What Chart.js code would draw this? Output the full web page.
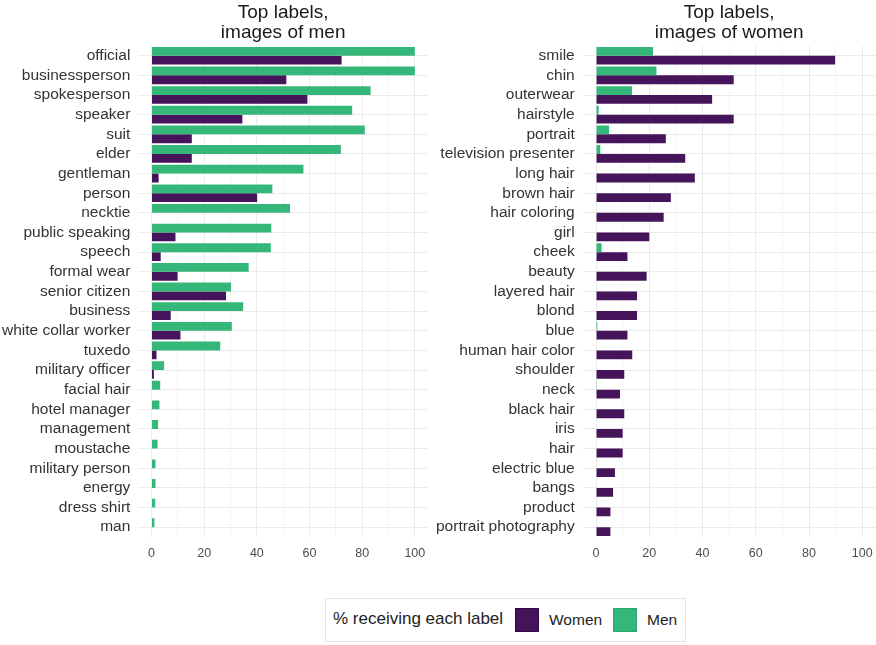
<!DOCTYPE html>
<html>
<head>
<meta charset="utf-8">
<script src="https://cdn.jsdelivr.net/npm/chart.js@4.4.1/dist/chart.umd.min.js"></script>
<style>
    body { margin: 0; background: #fff; font-family: "Liberation Sans", Arial, sans-serif; }
    #wrap { position: relative; width: 876px; height: 645px; overflow: hidden; }
    .panel { position: absolute; top: 0; height: 572px; }
    #legend {
        position: absolute; left: 325px; top: 598px; width: 361px; height: 44px;
        border: 1px solid #e2e2e2; box-sizing: border-box; color: #222;
    }
    #legend span { position: absolute; white-space: nowrap; }
    #legend .txt { top: 11px; font-size: 15.5px; line-height: 20px; }
    #legend .key { top: 9px; width: 24px; height: 24px; box-sizing: border-box; }
</style>
</head>
<body>
<div id="wrap">
    <div class="panel" style="left:-6px;width:444px"><canvas id="chartMen"></canvas></div>
    <div class="panel" style="left:428px;width:454px"><canvas id="chartWomen"></canvas></div>
    <div id="legend">
        <span class="txt" style="left:7px;font-size:17px;top:10px">% receiving each label</span>
        <span class="key" style="left:189px;background:#45145a;border:1px solid #300a40"></span>
        <span class="txt" style="left:223px">Women</span>
        <span class="key" style="left:287px;background:#35b779;border:1px solid #2aa86a"></span>
        <span class="txt" style="left:321px">Men</span>
    </div>
</div>
<script>
// Panel 1: top labels for images of men
const menLabels = ['official', 'businessperson', 'spokesperson', 'speaker', 'suit', 'elder',
    'gentleman', 'person', 'necktie', 'public speaking', 'speech', 'formal wear',
    'senior citizen', 'business', 'white collar worker', 'tuxedo', 'military officer',
    'facial hair', 'hotel manager', 'management', 'moustache', 'military person',
    'energy', 'dress shirt', 'man'];
const menPanelMen = [100, 100, 83.2, 76.2, 81, 71.9, 57.7, 45.9, 52.6, 45.5, 45.3, 36.9,
    30.2, 34.8, 30.5, 26.1, 4.8, 3.3, 3.0, 2.5, 2.3, 1.5, 1.5, 1.4, 1.1];
const menPanelWomen = [72.2, 51.2, 59.2, 34.5, 15.3, 15.3, 2.7, 40.1, 0, 9.1, 3.5, 9.9,
    28.3, 7.3, 11, 1.9, 0.9, 0, 0, 0, 0, 0, 0, 0, 0];

// Panel 2: top labels for images of women
const womenLabels = ['smile', 'chin', 'outerwear', 'hairstyle', 'portrait', 'television presenter',
    'long hair', 'brown hair', 'hair coloring', 'girl', 'cheek', 'beauty', 'layered hair',
    'blond', 'blue', 'human hair color', 'shoulder', 'neck', 'black hair', 'iris', 'hair',
    'electric blue', 'bangs', 'product', 'portrait photography'];
const womenPanelMen = [21.4, 22.7, 13.5, 1.0, 4.9, 1.6, 0, 0, 0, 0, 2.1, 0, 0,
    0, 0.5, 0, 0, 0.3, 0, 0, 0, 0, 0, 0, 0];
const womenPanelWomen = [89.8, 51.7, 43.6, 51.7, 26.2, 33.5, 37.1, 28.1, 25.4, 20.0, 11.8, 19.0, 15.4,
    15.4, 11.8, 13.6, 10.6, 9.0, 10.6, 10.0, 10.0, 7.1, 6.4, 5.4, 5.4];

const xTicks = [0, 10, 20, 30, 40, 50, 60, 70, 80, 90, 100];

const WOMEN_COLOR = '#45145a';
const MEN_COLOR = '#35b779';
const FONT = '"Liberation Sans", Arial, sans-serif';

function makeChart(id, title, labels, menVals, womenVals, rightPad) {
    const ctx = document.getElementById(id).getContext('2d');
    return new Chart(ctx, {
        type: 'bar',
        data: {
            labels: labels,
            datasets: [
                { label: 'Men', data: menVals, backgroundColor: MEN_COLOR },
                { label: 'Women', data: womenVals, backgroundColor: WOMEN_COLOR }
            ]
        },
        options: {
            indexAxis: 'y',
            responsive: true,
            maintainAspectRatio: false,
            animation: false,
            categoryPercentage: 0.9,
            barPercentage: 1.0,
            layout: { padding: { top: 0, right: rightPad, bottom: 2, left: 0 } },
            plugins: {
                legend: { display: false },
                tooltip: { enabled: false },
                title: {
                    display: true,
                    text: title,
                    fullSize: false,
                    color: '#1a1a1a',
                    font: { family: FONT, size: 19, weight: 'normal', lineHeight: 1.05 },
                    padding: { top: 3, bottom: 3 }
                }
            },
            scales: {
                x: {
                    min: -5,
                    max: 105,
                    afterBuildTicks: (scale) => {
                        scale.ticks = xTicks.map(v => ({ value: v }));
                    },
                    ticks: {
                        color: '#4d4d4d',
                        font: { family: FONT, size: 12.5 },
                        padding: 9,
                        maxRotation: 0,
                        autoSkip: false,
                        callback: (v) => (v % 20 === 0 ? v : '')
                    },
                    grid: {
                        drawTicks: false,
                        color: (c) => (c.tick && c.tick.value % 20 === 0 ? '#ebebeb' : '#f4f4f4')
                    },
                    border: { display: false }
                },
                y: {
                    ticks: {
                        color: '#333',
                        font: { family: FONT, size: 15.5 },
                        padding: 8,
                        autoSkip: false
                    },
                    grid: { offset: false, drawTicks: false, color: '#ebebeb' },
                    border: { display: false }
                }
            }
        }
    });
}

makeChart('chartMen', ['Top labels,', 'images of men'], menLabels, menPanelMen, menPanelWomen, 10);
makeChart('chartWomen', ['Top labels,', 'images of women'], womenLabels, womenPanelMen, womenPanelWomen, 1);
</script>
</body>
</html>
